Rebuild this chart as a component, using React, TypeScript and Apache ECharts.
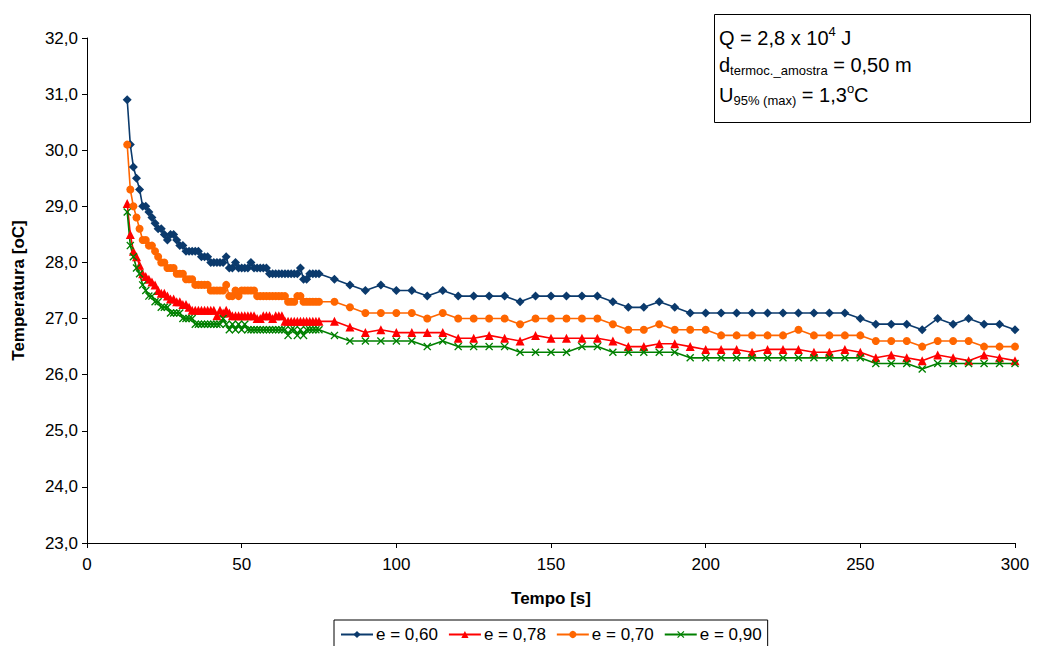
import React, { useEffect, useRef } from "react";
import * as echarts from "echarts";

// time axis (s)
const times: number[] = [
  13, 14, 15, 16, 17, 18, 19, 20, 21, 22,
  23, 24, 25, 26, 27, 28, 29, 30, 31, 32,
  33, 34, 35, 36, 37, 38, 39, 40, 41, 42,
  43, 44, 45, 46, 47, 48, 49, 50, 51, 52,
  53, 54, 55, 56, 57, 58, 59, 60, 61, 62,
  63, 64, 65, 66, 67, 68, 69, 70, 71, 72,
  73, 74, 75,
  80, 85, 90, 95, 100, 105, 110, 115, 120, 125,
  130, 135, 140, 145, 150, 155, 160, 165, 170, 175,
  180, 185, 190, 195, 200, 205, 210, 215, 220, 225,
  230, 235, 240, 245, 250, 255, 260, 265, 270, 275,
  280, 285, 290, 295, 300,
];

const e060: number[] = [
  30.9, 30.1, 29.7, 29.5, 29.3, 29.0, 29.0, 28.9, 28.8, 28.7,
  28.6, 28.6, 28.5, 28.4, 28.5, 28.5, 28.4, 28.3, 28.3, 28.2,
  28.2, 28.2, 28.2, 28.2, 28.1, 28.1, 28.1, 28.0, 28.0, 28.0,
  28.0, 28.0, 28.1, 27.9, 27.9, 28.0, 27.9, 27.9, 27.9, 27.9,
  28.0, 27.9, 27.9, 27.9, 27.9, 27.9, 27.8, 27.8, 27.8, 27.8,
  27.8, 27.8, 27.8, 27.8, 27.8, 27.8, 27.9, 27.7, 27.7, 27.8,
  27.8, 27.8, 27.8,
  27.7, 27.6, 27.5, 27.6, 27.5, 27.5, 27.4, 27.5, 27.4, 27.4,
  27.4, 27.4, 27.3, 27.4, 27.4, 27.4, 27.4, 27.4, 27.3, 27.2,
  27.2, 27.3, 27.2, 27.1, 27.1, 27.1, 27.1, 27.1, 27.1, 27.1,
  27.1, 27.1, 27.1, 27.1, 27.0, 26.9, 26.9, 26.9, 26.8, 27.0,
  26.9, 27.0, 26.9, 26.9, 26.8,
];

const e078: number[] = [
  29.05, 28.5, 28.2, 28.1, 27.95, 27.8, 27.75, 27.7, 27.65, 27.6,
  27.5, 27.45, 27.45, 27.4, 27.35, 27.35, 27.3, 27.3, 27.25, 27.25,
  27.2, 27.15, 27.15, 27.15, 27.15, 27.15, 27.15, 27.15, 27.15, 27.05,
  27.15, 27.1, 27.15, 27.1, 27.05, 27.05, 27.05, 27.05, 27.05, 27.05,
  27.05, 27.05, 27.0, 27.0, 27.05, 27.05, 27.05, 27.0, 27.05, 27.05,
  27.05, 26.95, 26.95, 26.95, 26.95, 26.95, 26.95, 26.95, 26.95, 26.95,
  26.95, 26.95, 26.95,
  26.95, 26.85, 26.75, 26.8, 26.75, 26.75, 26.75, 26.75, 26.65, 26.65,
  26.7, 26.65, 26.6, 26.7, 26.65, 26.65, 26.65, 26.65, 26.6, 26.5,
  26.5, 26.55, 26.55, 26.5, 26.45, 26.45, 26.45, 26.4, 26.45, 26.45,
  26.45, 26.4, 26.4, 26.45, 26.4, 26.3, 26.35, 26.3, 26.25, 26.35,
  26.3, 26.25, 26.35, 26.3, 26.25,
];

const e070: number[] = [
  30.1, 29.3, 29.0, 28.8, 28.6, 28.4, 28.4, 28.3, 28.3, 28.2,
  28.1, 28.0, 28.0, 27.9, 27.9, 27.9, 27.8, 27.8, 27.8, 27.7,
  27.7, 27.7, 27.6, 27.6, 27.6, 27.6, 27.6, 27.5, 27.5, 27.5,
  27.5, 27.5, 27.6, 27.4, 27.4, 27.5, 27.4, 27.5, 27.5, 27.5,
  27.5, 27.5, 27.4, 27.4, 27.4, 27.4, 27.4, 27.4, 27.4, 27.4,
  27.4, 27.4, 27.3, 27.3, 27.3, 27.4, 27.4, 27.3, 27.3, 27.3,
  27.3, 27.3, 27.3,
  27.3, 27.2, 27.1, 27.1, 27.1, 27.1, 27.0, 27.1, 27.0, 27.0,
  27.0, 27.0, 26.9, 27.0, 27.0, 27.0, 27.0, 27.0, 26.9, 26.8,
  26.8, 26.9, 26.8, 26.8, 26.8, 26.7, 26.7, 26.7, 26.7, 26.7,
  26.8, 26.7, 26.7, 26.7, 26.7, 26.6, 26.6, 26.6, 26.5, 26.6,
  26.6, 26.6, 26.5, 26.5, 26.5,
];

const e090: number[] = [
  28.9, 28.3, 28.1, 27.9, 27.8, 27.6, 27.5, 27.4, 27.4, 27.3,
  27.3, 27.2, 27.2, 27.2, 27.1, 27.1, 27.1, 27.1, 27.0, 27.0,
  27.0, 27.0, 26.9, 26.9, 26.9, 26.9, 26.9, 26.9, 26.9, 26.9,
  26.9, 27.0, 26.9, 26.8, 26.9, 26.8, 26.9, 26.8, 26.9, 26.8,
  26.8, 26.8, 26.8, 26.8, 26.8, 26.8, 26.8, 26.8, 26.8, 26.8,
  26.8, 26.8, 26.7, 26.8, 26.8, 26.7, 26.8, 26.7, 26.8, 26.8,
  26.8, 26.8, 26.8,
  26.7, 26.6, 26.6, 26.6, 26.6, 26.6, 26.5, 26.6, 26.5, 26.5,
  26.5, 26.5, 26.4, 26.4, 26.4, 26.4, 26.5, 26.5, 26.4, 26.4,
  26.4, 26.4, 26.4, 26.3, 26.3, 26.3, 26.3, 26.3, 26.3, 26.3,
  26.3, 26.3, 26.3, 26.3, 26.3, 26.2, 26.2, 26.2, 26.1, 26.2,
  26.2, 26.2, 26.2, 26.2, 26.2,
];

const seriesNames = ["e = 0,60", "e = 0,78", "e = 0,70", "e = 0,90"];
const xTicks = { min: 0, max: 300, interval: 50 };
const yTicks = { min: 23, max: 32, interval: 1 };

const FONT = "'Liberation Sans', Arial, sans-serif";
const X_SYMBOL =
  "path://M0,1.2L1.2,0L5,3.8L8.8,0L10,1.2L6.2,5L10,8.8L8.8,10L5,6.2L1.2,10L0,8.8L3.8,5Z";

function pair(ys: number[]): number[][] {
  return times.map((t, i) => [t, ys[i]]);
}

export default function App() {
  const ref = useRef<HTMLDivElement>(null);
  useEffect(() => {
    if (!ref.current) return;
    const chart = echarts.init(ref.current, undefined, { renderer: "svg" });
    const mk = (name: string, ys: number[], color: string, symbol: string, size: number) => ({
      name,
      type: "line",
      data: pair(ys),
      symbol,
      symbolSize: size,
      showSymbol: true,
      lineStyle: { color, width: 1.6 },
      itemStyle: { color, borderColor: color, borderWidth: 0 },
      emphasis: { disabled: true },
      z: 2,
    });
    const n = { fontFamily: FONT, fontSize: 20, lineHeight: 25, fill: "#000", verticalAlign: "middle" };
    const sub = { fontFamily: FONT, fontSize: 13, lineHeight: 12, fill: "#000", verticalAlign: "bottom" };
    const sup = { fontFamily: FONT, fontSize: 13, lineHeight: 13, fill: "#000", verticalAlign: "top" };
    chart.setOption({
      animation: false,
      backgroundColor: "#ffffff",
      textStyle: { fontFamily: FONT },
      grid: { left: 87, right: 23, top: 38, bottom: 103, containLabel: false },
      xAxis: {
        type: "value",
        min: xTicks.min,
        max: xTicks.max,
        interval: xTicks.interval,
        name: "Tempo [s]",
        nameLocation: "middle",
        nameGap: 47,
        nameTextStyle: { fontFamily: FONT, fontSize: 17, fontWeight: "bold", color: "#000" },
        axisLine: { lineStyle: { color: "#000", width: 1 } },
        axisTick: { show: true, length: 5, lineStyle: { color: "#000" } },
        axisLabel: { fontFamily: FONT, fontSize: 17, color: "#000", margin: 13 },
        splitLine: { show: false },
      },
      yAxis: {
        type: "value",
        min: yTicks.min,
        max: yTicks.max,
        interval: yTicks.interval,
        name: "Temperatura [oC]",
        nameLocation: "middle",
        nameGap: 60,
        nameTextStyle: { fontFamily: FONT, fontSize: 17, fontWeight: "bold", color: "#000" },
        axisLine: { show: true, lineStyle: { color: "#000", width: 1 } },
        axisTick: { show: true, length: 5, lineStyle: { color: "#000" } },
        axisLabel: {
          fontFamily: FONT,
          fontSize: 17,
          color: "#000",
          margin: 9,
          formatter: (v: number) => v.toFixed(1).replace(".", ","),
        },
        splitLine: { show: false },
      },
      legend: {
        left: 334,
        top: 620,
        orient: "horizontal",
        data: seriesNames,
        itemWidth: 32,
        itemHeight: 9,
        itemGap: 10,
        padding: [6, 6, 8, 6],
        borderColor: "#000",
        borderWidth: 1,
        backgroundColor: "#fff",
        textStyle: { fontFamily: FONT, fontSize: 17, color: "#000", padding: [0, 0, 0, -2] },
      },
      graphic: [
        {
          type: "rect",
          shape: { x: 714.5, y: 14.5, width: 316, height: 108 },
          style: { fill: "#fff", stroke: "#000", lineWidth: 1 },
          z: 10,
        },
        {
          type: "text",
          x: 719,
          y: 25,
          z: 11,
          style: { text: "{n|Q = 2,8 x 10}{sup|4}{n| J}", rich: { n, sup } },
        },
        {
          type: "text",
          x: 719,
          y: 52,
          z: 11,
          style: { text: "{n|d}{sub|termoc._amostra}{n| = 0,50 m}", rich: { n, sub } },
        },
        {
          type: "text",
          x: 719,
          y: 82,
          z: 11,
          style: { text: "{n|U}{sub|95% (max)}{n| = 1,3}{sup|o}{n|C}", rich: { n, sub, sup } },
        },
      ],
      series: [
        mk(seriesNames[0], e060, "#0b3a6c", "diamond", 9),
        mk(seriesNames[1], e078, "#ff0000", "triangle", 9),
        mk(seriesNames[2], e070, "#ff6600", "circle", 8),
        mk(seriesNames[3], e090, "#008000", X_SYMBOL, 8),
      ],
    });
    return () => chart.dispose();
  }, []);
  return (
    <div
      ref={ref}
      style={{ position: "absolute", left: 0, top: 0, width: 1038, height: 646, background: "#fff" }}
    />
  );
}
